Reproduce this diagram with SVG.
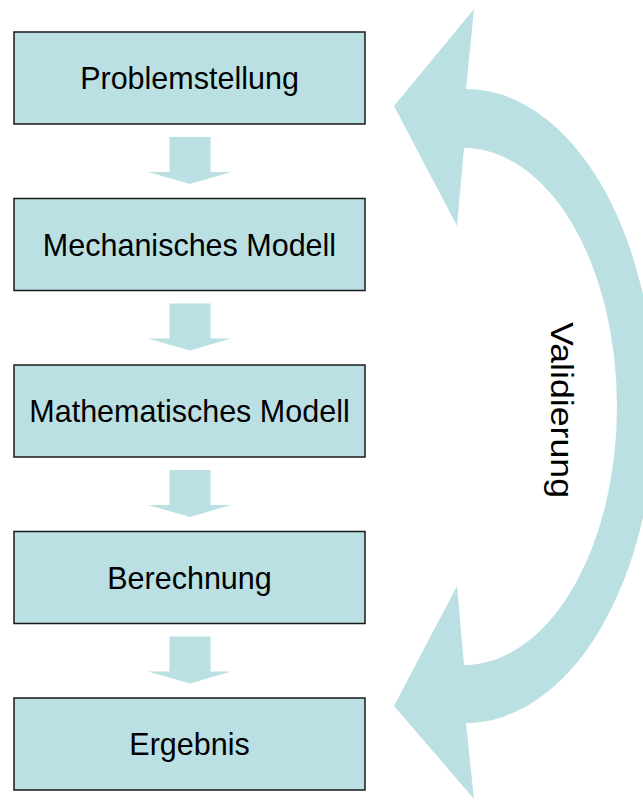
<svg xmlns="http://www.w3.org/2000/svg" width="643" height="800" viewBox="0 0 643 800">
  <style>
    .box { fill: #BAE0E3; stroke: #1a1a1a; stroke-width: 1.5; }
    .lbl { font-family: "Liberation Sans", Arial, sans-serif; font-size: 30.5px; fill: #000; text-anchor: middle; }
    .arr { fill: #BAE0E3; stroke: none; }
  </style>
  <defs>
    <path id="down" d="M 169.5,0 H 210.5 V 35 H 231 L 190,47 L 148,35 H 169.5 Z"/>
  </defs>
  <rect width="643" height="800" fill="#ffffff"/>

  <g id="connectors">
    <use href="#down" class="arr" x="0" y="137"/>
    <use href="#down" class="arr" x="0" y="303.5"/>
    <use href="#down" class="arr" x="0" y="470"/>
    <use href="#down" class="arr" x="0" y="636.5"/>
    <path id="validierung-arrow" class="arr" d="M 394,106 L 474,9 L 466,89 A 189 317 0 0 1 466,723 L 474,799 L 394,706 L 457,586 L 464,665 A 153 258.5 0 0 0 464,148 L 457,226 Z"/>
  </g>

  <g id="n1">
    <rect class="box" x="14" y="32" width="351" height="92"/>
    <text class="lbl" x="189.5" y="89">Problemstellung</text>
  </g>
  <g id="n2">
    <rect class="box" x="14" y="198.5" width="351" height="92"/>
    <text class="lbl" x="189.5" y="255.5">Mechanisches Modell</text>
  </g>
  <g id="n3">
    <rect class="box" x="14" y="365" width="351" height="92"/>
    <text class="lbl" x="189.5" y="422">Mathematisches Modell</text>
  </g>
  <g id="n4">
    <rect class="box" x="14" y="531.5" width="351" height="92"/>
    <text class="lbl" x="189.5" y="588.5">Berechnung</text>
  </g>
  <g id="n5">
    <rect class="box" x="14" y="698" width="351" height="92"/>
    <text class="lbl" x="189.5" y="755">Ergebnis</text>
  </g>

  <g id="label-validierung">
    <text x="0" y="0" transform="translate(551,410) rotate(90)" font-family="Liberation Sans, Arial, sans-serif" font-size="32" text-anchor="middle" textLength="176" lengthAdjust="spacingAndGlyphs">Validierung</text>
  </g>
</svg>
